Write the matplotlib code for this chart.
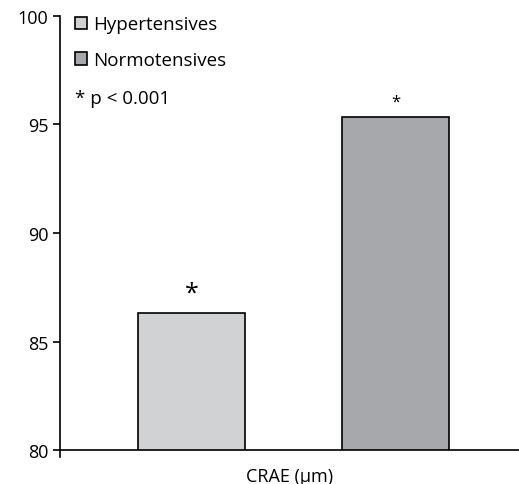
import matplotlib.pyplot as plt

plt.rcParams['font.family'] = ['Open Sans', 'DejaVu Sans']

groups = ['Hypertensives', 'Normotensives']
crae = [86.3, 95.35]
colors = ['#d1d2d4', '#a7a8ab']
stars = ['*', '*']
star_sizes = [18, 12]

fig = plt.figure(figsize=(5.19, 4.85), dpi=100)
ax = fig.add_axes([0.1156, 0.07, 0.8844, 0.895])

x = range(len(groups))
bars = ax.bar(x, crae, width=0.525, color=colors, edgecolor='black',
              linewidth=1.2, label=groups, zorder=2)

for xi, v, s, fs in zip(x, crae, stars, star_sizes):
    ax.text(xi, v + 0.35, s, ha='center', va='bottom', fontsize=fs)

ax.set_ylim(80, 100)
ax.set_xlim(-0.645, 1.605)
ax.set_yticks([80, 85, 90, 95, 100])
ax.set_xticks([])
ax.set_xlabel('CRAE (µm)', fontsize=13, labelpad=12)

for side in ['top', 'right']:
    ax.spines[side].set_visible(False)
ax.spines['left'].set_bounds(79.68, 100)
ax.spines['left'].set_linewidth(1.2)
ax.spines['bottom'].set_linewidth(1.2)
ax.tick_params(axis='y', direction='out', length=5, width=1.2, labelsize=13)

leg = ax.legend(bars, groups, loc='upper left', bbox_to_anchor=(-0.005, 1.04),
                frameon=False, fontsize=13.5, handlelength=0.65, handleheight=0.65,
                handletextpad=0.35, labelspacing=0.95)

ax.text(0.033, 0.81, '* p < 0.001', transform=ax.transAxes, fontsize=13.5,
        ha='left', va='center')

fig.savefig('out.png', dpi=100)
